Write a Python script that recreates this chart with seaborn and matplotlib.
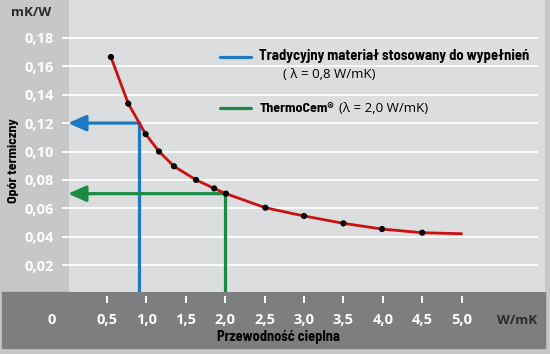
import matplotlib
matplotlib.use("Agg")
import matplotlib.pyplot as plt
import seaborn as sns
from matplotlib.patches import Rectangle
from matplotlib.lines import Line2D

# ---- data ----
conductivity = [0.55, 0.77, 0.99, 1.16, 1.35, 1.63, 1.86, 2.01, 2.51, 3.0, 3.5, 3.99, 4.5]
resistance = [0.1665, 0.1337, 0.1123, 0.100, 0.0896, 0.080, 0.074, 0.0703, 0.0604, 0.0546, 0.0494, 0.0454, 0.0428]
curve_x = conductivity + [5.0]
curve_y = resistance + [0.0421]
x_ticks = [0.5, 1.0, 1.5, 2.0, 2.5, 3.0, 3.5, 4.0, 4.5, 5.0]
x_tick_labels = ["0,5", "1,0", "1,5", "2,0", "2,5", "3,0", "3,5", "4,0", "4,5", "5,0"]
y_ticks = [0.02, 0.04, 0.06, 0.08, 0.10, 0.12, 0.14, 0.16, 0.18]
y_tick_labels = ["0,02", "0,04", "0,06", "0,08", "0,10", "0,12", "0,14", "0,16", "0,18"]
trad_lambda, trad_R = 0.9, 0.12
thermo_lambda, thermo_R = 2.0, 0.0703
legend_labels = ["Tradycyjny materiał stosowany do wypełnień", "( λ = 0,8 W/mK)",
                 "ThermoCem®", "(λ = 2,0 W/mK)"]

STRIP = "#c6c7c9"
PLOT_BG = "#dcdddf"
BAND = "#7d7e80"
BLUE = "#1c79c4"
GREEN = "#1d8a44"
RED = "#cc1010"
DARK = "#2a2a2a"

sns.set_theme(style="white")
plt.rcParams["font.family"] = ["Open Sans", "DejaVu Sans"]
NARROW = ["Barlow Semi Condensed", "DejaVu Sans"]

W, H = 550, 354
fig = plt.figure(figsize=(W / 100, H / 100), dpi=100, facecolor=STRIP)

def fx(px):
    return px / W

def fy(py):
    return 1 - py / H

# bottom dark band
fig.patches.append(Rectangle((fx(2), fy(348)), fx(545) - fx(2), fy(292) - fy(348),
                             transform=fig.transFigure, color=BAND, zorder=-1))

ax = fig.add_axes([fx(69), fy(292), fx(545) - fx(69), 1 - fy(292)])
ax.set_facecolor(PLOT_BG)
x0, sx = 67.6, 78.8
y0, sy = 293.5, 1420.0
ax.set_xlim((69 - x0) / sx, (545 - x0) / sx)
ax.set_ylim((y0 - 292) / sy, y0 / sy)
for s in ax.spines.values():
    s.set_visible(False)
ax.spines["bottom"].set_position(("outward", 3))

ax.set_xticks(x_ticks)
ax.set_xticklabels(x_tick_labels, fontweight="bold", fontsize=10.5)
ax.set_yticks(y_ticks)
ax.set_yticklabels(y_tick_labels, fontweight="bold", fontsize=10.5)
ax.tick_params(axis="x", colors="white", length=5, width=1.4, pad=7, bottom=True)
ax.tick_params(axis="y", colors="white", length=0, pad=11)

# grid lines
ax.hlines(y_ticks, (62 - x0) / sx, (538 - x0) / sx, color="white", lw=1.3,
          clip_on=False, zorder=1)

# curve and points
sns.lineplot(x=curve_x, y=curve_y, color=RED, lw=2.0, ax=ax, zorder=3, sort=False)
sns.scatterplot(x=conductivity, y=resistance, color="black", s=20, edgecolor="none",
                ax=ax, zorder=4)

# guide lines with arrows
ybot = ax.get_ylim()[0]
tip_x = (68 - x0) / sx
for lam, R, col in [(trad_lambda, trad_R, BLUE), (thermo_lambda, thermo_R, GREEN)]:
    ax.plot([lam, lam], [ybot, R], color=col, lw=2.3, zorder=2, solid_capstyle="butt")
    ax.annotate("", xy=(tip_x, R), xytext=(lam + 0.015, R), annotation_clip=False,
                arrowprops=dict(arrowstyle="-|>,head_length=0.9,head_width=0.4",
                                color=col, lw=2.3, shrinkA=0, shrinkB=0), zorder=2)

# legend
for py, col in [(57, BLUE), (108.5, GREEN)]:
    fig.add_artist(Line2D([fx(220), fx(251)], [fy(py), fy(py)], color=col, lw=2.3,
                          transform=fig.transFigure))
fig.text(fx(259), fy(56), legend_labels[0], family=NARROW, fontweight="bold",
         fontsize=10.5, color="black", va="center", ha="left")
fig.text(fx(283), fy(74.5), legend_labels[1], fontsize=9.5, color="black",
         va="center", ha="left")
fig.text(fx(260), fy(108.5), legend_labels[2], family=NARROW, fontweight="bold",
         fontsize=10, color="black", va="center", ha="left")
fig.text(fx(339), fy(108), legend_labels[3], fontsize=9.5, color="black",
         va="center", ha="left")

# axis texts
fig.text(fx(31), fy(13), "mK/W", fontweight="bold", fontsize=9.5, color=DARK,
         ha="center", va="center")
fig.text(fx(14), fy(161), "Opór termiczny", family=NARROW, fontweight="bold",
         fontsize=10, color="black", rotation=90, ha="center", va="center")
fig.text(fx(52), fy(320), "0", fontweight="bold", fontsize=10.5, color="white",
         ha="center", va="center")
fig.text(fx(517), fy(320), "W/mK", fontweight="bold", fontsize=9.5, color=DARK,
         ha="center", va="center")
fig.text(fx(278), fy(337), "Przewodność cieplna", family=NARROW, fontweight="bold",
         fontsize=10.3, color="black", ha="center", va="center")

fig.savefig("out.png", dpi=100, facecolor=STRIP)
